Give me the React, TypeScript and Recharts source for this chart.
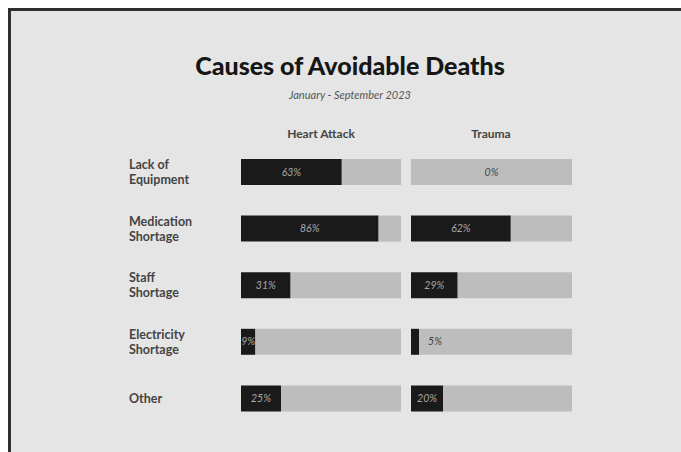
import React from 'react';
import { BarChart, Bar, XAxis, YAxis, LabelList } from 'recharts';

// Avoidable deaths by cause, share per category (%)
const causes = ['Lack of\nEquipment', 'Medication\nShortage', 'Staff\nShortage', 'Electricity\nShortage', 'Other'];
const heartAttack = [63, 86, 31, 9, 25];
const trauma = [0, 62, 29, 5, 20];
const columns = ['Heart Attack', 'Trauma'];

const FONT = 'Lato, "Open Sans", sans-serif';

// filled share + the grey remainder of the 100% track
const toRows = (vals: number[]) => causes.map((name, i) => ({ name, value: vals[i], rest: 100 - vals[i] }));
const heartData = toRows(heartAttack);
const traumaData = toRows(trauma);

// Two-line bold category label, left aligned
const RowTick = ({ y, payload }: any) => {
  const lines = String(payload.value).split('\n');
  const lh = 15;
  const start = y - ((lines.length - 1) * lh) / 2;
  return (
    <text x={18} y={start} fill="#444" fontSize={12.5} fontWeight={700} fontFamily={FONT} textAnchor="start">
      {lines.map((l, i) => (
        <tspan key={i} x={18} y={start + i * lh} dy="0.35em">
          {l}
        </tspan>
      ))}
    </text>
  );
};

// Percentage label, drawn from the remainder segment so 0% still shows.
// Centred in the black part, or after it when that part is too narrow.
const makePctLabel = (rows: any[]) => (props: any) => {
  const { x, y, width, height, index } = props;
  const value = rows[index].value;
  const end = x + width;
  const scale = width / rows[index].rest || 1.6;
  const start = end - 100 * scale;
  const filled = x - start;
  let cx = start + filled / 2;
  let fill = '#a8a8a8';
  if (value === 0) {
    cx = start + (end - start) / 2;
    fill = '#444';
  } else if (filled < 12) {
    cx = x + 16;
    fill = '#444';
  }
  return (
    <text
      x={cx}
      y={y + height / 2}
      dy="0.35em"
      textAnchor="middle"
      fill={fill}
      fontSize={10.5}
      fontStyle="italic"
      fontFamily={FONT}
    >
      {value}%
    </text>
  );
};

const Column = ({ data, withLabels }: { data: any[]; withLabels: boolean }) => (
  <BarChart
    width={withLabels ? 290 : 161}
    height={283}
    data={data}
    layout="vertical"
    margin={{ top: 0, right: 0, bottom: 0, left: 0 }}
  >
    <XAxis type="number" domain={[0, 100]} hide />
    {withLabels ? (
      <YAxis type="category" dataKey="name" width={130} axisLine={false} tickLine={false} tick={<RowTick />} />
    ) : (
      <YAxis type="category" dataKey="name" hide />
    )}
    <Bar dataKey="value" stackId="s" fill="#1a1a1a" barSize={26} isAnimationActive={false} />
    <Bar dataKey="rest" stackId="s" fill="#bdbdbd" barSize={26} isAnimationActive={false}>
      <LabelList dataKey="rest" content={makePctLabel(data)} />
    </Bar>
  </BarChart>
);

const header: React.CSSProperties = {
  position: 'absolute',
  top: 116,
  width: 160,
  textAlign: 'center',
  fontFamily: FONT,
  fontWeight: 700,
  fontSize: 12,
  color: '#444',
  lineHeight: '14px',
};

export default function App() {
  return (
    <div
      style={{
        position: 'fixed',
        top: 8,
        left: 8,
        right: 0,
        bottom: 0,
        overflow: 'hidden',
        background: '#e5e5e5',
        borderTop: '3px solid #2e2e2e',
        borderLeft: '3px solid #2e2e2e',
        fontFamily: FONT,
      }}
    >
      <div
        style={{
          position: 'absolute',
          left: 0,
          width: 678,
          top: 42,
          textAlign: 'center',
          fontSize: 25,
          fontWeight: 900,
          lineHeight: '25px',
          color: '#161616',
        }}
      >
        Causes of Avoidable Deaths
      </div>
      <div
        style={{
          position: 'absolute',
          left: 0,
          width: 678,
          top: 78,
          textAlign: 'center',
          fontSize: 11,
          fontStyle: 'italic',
          lineHeight: '12px',
          color: '#555',
        }}
      >
        January - September 2023
      </div>
      <div style={{ ...header, left: 230 }}>{columns[0]}</div>
      <div style={{ ...header, left: 400 }}>{columns[1]}</div>
      <div style={{ position: 'absolute', left: 100, top: 133 }}>
        <Column data={heartData} withLabels />
      </div>
      <div style={{ position: 'absolute', left: 400, top: 133 }}>
        <Column data={traumaData} withLabels={false} />
      </div>
    </div>
  );
}
